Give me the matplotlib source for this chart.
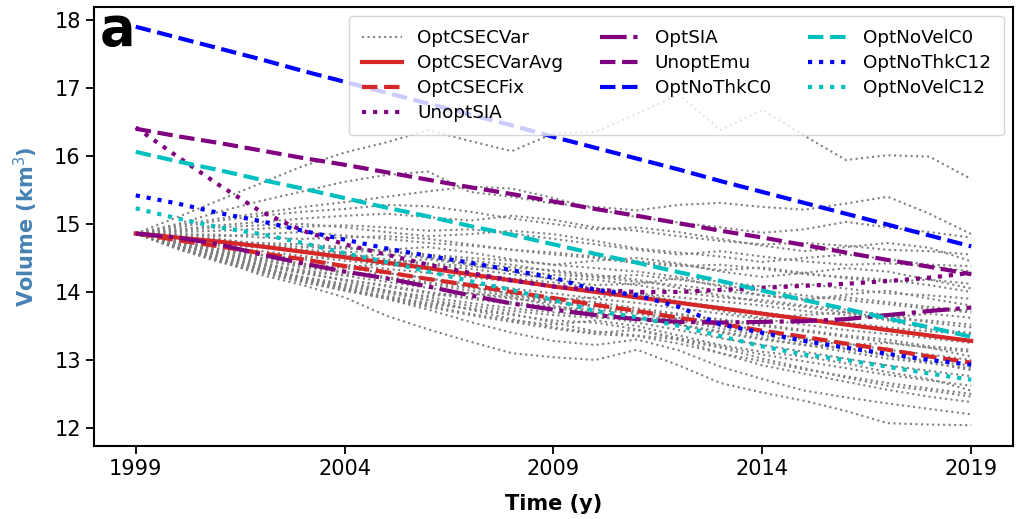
import numpy as np
import matplotlib.pyplot as plt

# ---------------------
# data (volume, km^3), yearly 1999-2019
# ---------------------
years = list(range(1999, 2020))

# ensemble members (OptCSECVar)
gray_runs = [
    [14.86, 15.10, 15.35, 15.60, 15.85, 16.05, 16.20, 16.38, 16.22, 16.07, 16.33, 16.35, 16.62, 16.90, 16.38, 16.68, 16.30, 15.94, 16.01, 15.99, 15.66],
    [14.86, 15.00, 15.18, 15.34, 15.48, 15.62, 15.72, 15.77, 15.47, 15.40, 15.30, 15.25, 15.20, 15.28, 15.31, 15.25, 15.21, 15.30, 15.40, 15.15, 14.85],
    [14.86, 14.98, 15.08, 15.16, 15.25, 15.32, 15.40, 15.48, 15.55, 15.52, 15.38, 15.22, 15.10, 15.02, 14.95, 14.87, 14.92, 15.03, 14.95, 14.88, 14.80],
    [14.86, 14.92, 14.98, 15.03, 15.08, 15.12, 15.15, 15.10, 15.05, 15.12, 15.06, 14.95, 14.90, 14.82, 14.75, 14.70, 14.72, 14.68, 14.62, 14.60, 14.55],
    [14.86, 14.88, 14.90, 14.93, 14.96, 14.98, 14.95, 14.90, 14.92, 14.86, 14.78, 14.70, 14.62, 14.55, 14.60, 14.52, 14.45, 14.40, 14.42, 14.38, 14.30],
    [14.86, 14.84, 14.82, 14.85, 14.88, 14.83, 14.78, 14.72, 14.68, 14.62, 14.58, 14.52, 14.45, 14.40, 14.32, 14.36, 14.28, 14.20, 14.15, 14.18, 14.12],
    [14.86, 14.80, 14.75, 14.72, 14.70, 14.66, 14.60, 14.55, 14.50, 14.46, 14.40, 14.35, 14.30, 14.22, 14.15, 14.08, 14.12, 14.05, 13.98, 13.95, 13.90],
    [14.86, 14.78, 14.72, 14.66, 14.60, 14.55, 14.48, 14.42, 14.38, 14.32, 14.25, 14.22, 14.15, 14.10, 14.02, 13.95, 13.90, 13.92, 13.85, 13.78, 13.72],
    [14.86, 14.76, 14.68, 14.60, 14.53, 14.46, 14.40, 14.33, 14.26, 14.20, 14.14, 14.06, 13.98, 13.92, 13.86, 13.80, 13.72, 13.66, 13.60, 13.58, 13.52],
    [14.86, 14.74, 14.64, 14.55, 14.48, 14.40, 14.34, 14.28, 14.22, 14.15, 14.08, 14.02, 13.95, 13.86, 13.78, 13.70, 13.62, 13.55, 13.48, 13.42, 13.38],
    [14.86, 14.72, 14.60, 14.50, 14.42, 14.35, 14.28, 14.20, 14.12, 14.05, 13.98, 13.90, 13.84, 13.76, 13.68, 13.60, 13.52, 13.44, 13.38, 13.32, 13.25],
    [14.86, 14.70, 14.57, 14.46, 14.38, 14.30, 14.22, 14.14, 14.06, 13.98, 13.92, 13.85, 13.76, 13.68, 13.58, 13.50, 13.42, 13.34, 13.26, 13.18, 13.12],
    [14.86, 14.68, 14.54, 14.42, 14.32, 14.24, 14.15, 14.06, 13.98, 13.90, 13.84, 13.78, 13.70, 13.60, 13.50, 13.40, 13.32, 13.24, 13.15, 13.08, 13.00],
    [14.86, 14.66, 14.50, 14.38, 14.27, 14.18, 14.08, 13.98, 13.90, 13.82, 13.76, 13.70, 13.62, 13.52, 13.42, 13.32, 13.22, 13.12, 13.02, 12.95, 12.88],
    [14.86, 14.65, 14.48, 14.34, 14.22, 14.12, 14.02, 13.92, 13.84, 13.76, 13.70, 13.65, 13.55, 13.44, 13.32, 13.22, 13.12, 13.02, 12.92, 12.84, 12.76],
    [14.86, 14.64, 14.45, 14.30, 14.17, 14.05, 13.94, 13.84, 13.75, 13.66, 13.58, 13.55, 13.45, 13.32, 13.20, 13.08, 12.98, 12.88, 12.78, 12.70, 12.62],
    [14.86, 14.72, 14.58, 14.44, 14.30, 14.16, 14.02, 13.88, 13.74, 13.60, 13.48, 13.40, 13.44, 13.30, 13.10, 12.92, 12.80, 12.68, 12.56, 12.46, 12.38],
    [14.86, 14.70, 14.52, 14.36, 14.20, 14.05, 13.90, 13.74, 13.56, 13.40, 13.28, 13.22, 13.30, 13.14, 12.90, 12.72, 12.55, 12.45, 12.36, 12.28, 12.20],
    [14.86, 14.68, 14.46, 14.25, 14.10, 13.92, 13.65, 13.45, 13.27, 13.10, 13.04, 13.00, 13.15, 12.92, 12.66, 12.52, 12.40, 12.25, 12.07, 12.05, 12.04],
    [14.86, 14.82, 14.78, 14.70, 14.62, 14.58, 14.62, 14.66, 14.58, 14.48, 14.40, 14.46, 14.50, 14.42, 14.30, 14.22, 14.28, 14.35, 14.30, 14.18, 14.05],
    [14.86, 14.75, 14.62, 14.50, 14.40, 14.36, 14.42, 14.48, 14.40, 14.30, 14.18, 14.10, 14.12, 14.20, 14.08, 13.95, 13.88, 13.96, 14.02, 13.90, 13.80],
    [14.86, 14.70, 14.55, 14.40, 14.30, 14.25, 14.28, 14.20, 14.08, 13.96, 13.88, 13.92, 13.98, 13.86, 13.72, 13.62, 13.66, 13.70, 13.58, 13.45, 13.40],
    [14.86, 14.67, 14.50, 14.35, 14.22, 14.10, 14.00, 13.94, 13.98, 13.92, 13.80, 13.68, 13.60, 13.62, 13.55, 13.42, 13.30, 13.22, 13.25, 13.18, 13.05],
    [14.86, 14.63, 14.44, 14.28, 14.14, 14.02, 13.92, 13.80, 13.68, 13.58, 13.52, 13.58, 13.50, 13.36, 13.22, 13.12, 13.05, 12.95, 12.82, 12.72, 12.55],
    [14.86, 14.73, 14.62, 14.54, 14.50, 14.52, 14.55, 14.50, 14.42, 14.36, 14.32, 14.25, 14.18, 14.06, 13.95, 13.85, 13.78, 13.70, 13.62, 13.68, 13.62],
    [14.86, 14.90, 14.95, 14.98, 15.00, 14.95, 14.88, 14.82, 14.85, 14.90, 14.85, 14.75, 14.64, 14.58, 14.52, 14.44, 14.50, 14.55, 14.48, 14.40, 14.38],
    [14.86, 14.95, 15.05, 15.12, 15.18, 15.22, 15.28, 15.26, 15.18, 15.08, 15.00, 14.92, 14.95, 14.88, 14.78, 14.68, 14.60, 14.66, 14.72, 14.65, 14.45],
    [14.86, 14.64, 14.46, 14.32, 14.20, 14.06, 13.92, 13.82, 13.76, 13.68, 13.55, 13.42, 13.36, 13.30, 13.18, 13.02, 12.88, 12.74, 12.62, 12.55, 12.46],
    [14.86, 14.66, 14.48, 14.34, 14.20, 14.08, 13.98, 13.88, 13.80, 13.72, 13.66, 13.62, 13.60, 13.52, 13.40, 13.30, 13.22, 13.18, 13.08, 12.98, 12.92],
    [14.86, 14.82, 14.76, 14.70, 14.66, 14.64, 14.60, 14.52, 14.46, 14.40, 14.30, 14.22, 14.25, 14.18, 14.10, 14.02, 13.95, 13.88, 13.82, 13.75, 13.70],
    [14.86, 14.77, 14.70, 14.65, 14.58, 14.50, 14.45, 14.40, 14.34, 14.26, 14.20, 14.18, 14.10, 14.00, 13.92, 13.88, 13.80, 13.74, 13.66, 13.55, 13.48],
    [14.86, 14.71, 14.58, 14.47, 14.36, 14.28, 14.20, 14.12, 14.02, 13.94, 13.86, 13.80, 13.72, 13.66, 13.60, 13.52, 13.44, 13.36, 13.30, 13.20, 13.15],
    [14.86, 14.69, 14.53, 14.40, 14.28, 14.18, 14.10, 14.00, 13.92, 13.85, 13.78, 13.74, 13.68, 13.58, 13.46, 13.36, 13.26, 13.16, 13.06, 12.96, 12.85],
    [14.86, 14.85, 14.84, 14.80, 14.78, 14.80, 14.82, 14.78, 14.70, 14.62, 14.55, 14.50, 14.42, 14.38, 14.40, 14.34, 14.26, 14.22, 14.18, 14.10, 14.00],
    [14.86, 14.66, 14.47, 14.30, 14.16, 14.02, 13.90, 13.78, 13.66, 13.56, 13.46, 13.38, 13.35, 13.24, 13.10, 12.98, 12.86, 12.76, 12.66, 12.58, 12.50],
]

opt_csec_var_avg = [14.86, 14.80, 14.74, 14.67, 14.59, 14.51, 14.43, 14.35, 14.26, 14.17, 14.08, 14.00, 13.92, 13.84, 13.76, 13.68, 13.60, 13.52, 13.44, 13.36, 13.28]
opt_csec_fix = [14.86, 14.76, 14.67, 14.57, 14.48, 14.38, 14.29, 14.19, 14.10, 14.00, 13.91, 13.81, 13.72, 13.62, 13.53, 13.43, 13.34, 13.24, 13.15, 13.05, 12.96]
unopt_sia = [16.42, 15.99, 15.57, 15.18, 14.90, 14.70, 14.55, 14.40, 14.28, 14.17, 14.08, 14.03, 14.00, 14.00, 14.03, 14.06, 14.09, 14.12, 14.16, 14.21, 14.28]
opt_sia = [14.86, 14.80, 14.70, 14.55, 14.42, 14.30, 14.20, 14.08, 13.95, 13.83, 13.74, 13.66, 13.60, 13.56, 13.55, 13.56, 13.57, 13.60, 13.66, 13.72, 13.77]
unopt_emu = [16.40, 16.29, 16.19, 16.08, 15.97, 15.87, 15.76, 15.65, 15.54, 15.44, 15.33, 15.22, 15.12, 15.01, 14.90, 14.80, 14.69, 14.58, 14.47, 14.37, 14.26]
opt_nothk_c0 = [17.90, 17.74, 17.58, 17.42, 17.25, 17.09, 16.93, 16.77, 16.61, 16.45, 16.28, 16.12, 15.96, 15.80, 15.63, 15.47, 15.31, 15.15, 14.99, 14.83, 14.67]
opt_novel_c0 = [16.06, 15.92, 15.79, 15.65, 15.52, 15.38, 15.24, 15.11, 14.97, 14.84, 14.70, 14.56, 14.43, 14.29, 14.16, 14.02, 13.88, 13.75, 13.61, 13.48, 13.34]
opt_nothk_c12 = [15.42, 15.30, 15.16, 15.04, 14.90, 14.77, 14.64, 14.53, 14.43, 14.32, 14.21, 14.03, 13.95, 13.78, 13.52, 13.40, 13.28, 13.18, 13.09, 13.00, 12.93]
opt_novel_c12 = [15.23, 15.08, 14.95, 14.85, 14.72, 14.57, 14.44, 14.30, 14.16, 14.03, 13.88, 13.72, 13.63, 13.50, 13.35, 13.20, 13.08, 13.00, 12.90, 12.80, 12.71]

xticks = [1999, 2004, 2009, 2014, 2019]
yticks = [12, 13, 14, 15, 16, 17, 18]

# ---------------------
# plot
# ---------------------
fig = plt.figure(figsize=(10.25, 5.19), dpi=100)
ax = fig.add_axes([0.0917, 0.1407, 0.8966, 0.8458])

for i, run in enumerate(gray_runs):
    ax.plot(years, run, color='gray', ls=':', lw=1.5,
            label='OptCSECVar' if i == 0 else None, zorder=1)

lw = 3
ax.plot(years, opt_csec_var_avg, color='tab:red', ls='-', lw=lw, label='OptCSECVarAvg', zorder=3)
ax.plot(years, opt_csec_fix, color='tab:red', ls='--', lw=lw, label='OptCSECFix', zorder=3)
ax.plot(years, unopt_sia, color='purple', ls=':', lw=lw, label='UnoptSIA', zorder=3)
ax.plot(years, opt_sia, color='purple', ls='-.', lw=lw, label='OptSIA', zorder=3)
ax.plot(years, unopt_emu, color='purple', ls='--', lw=lw, label='UnoptEmu', zorder=3)
ax.plot(years, opt_nothk_c0, color='blue', ls='--', lw=lw, label='OptNoThkC0', zorder=3)
ax.plot(years, opt_novel_c0, color='c', ls='--', lw=lw, label='OptNoVelC0', zorder=3)
ax.plot(years, opt_nothk_c12, color='blue', ls=':', lw=lw, label='OptNoThkC12', zorder=3)
ax.plot(years, opt_novel_c12, color='c', ls=':', lw=lw, label='OptNoVelC12', zorder=3)

ax.set_xlim(1998, 2020)
ax.set_ylim(11.735, 18.19)
ax.set_xticks(xticks)
ax.set_yticks(yticks)
ax.tick_params(labelsize=15, length=6, width=1.3)
for s in ax.spines.values():
    s.set_linewidth(1.5)

ax.set_xlabel('Time (y)', fontsize=15, fontweight='bold', labelpad=11)
ax.set_ylabel(r'Volume (km$^3$)', fontsize=15, fontweight='bold', color='steelblue', labelpad=10)

ax.text(0.006, 0.913, 'a', transform=ax.transAxes, fontsize=38,
        fontweight='bold', va='baseline', ha='left')

ax.legend(loc='upper right', ncol=3, fontsize=13.2, labelspacing=0.38,
          borderpad=0.72, handlelength=2.2)

plt.savefig('out.png', dpi=100)
